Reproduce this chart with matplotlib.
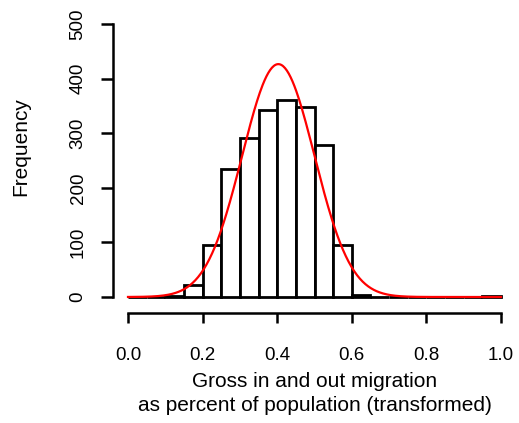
import numpy as np
import matplotlib
matplotlib.use("Agg")
import matplotlib.pyplot as plt

# Histogram data (bin width 0.05 from 0.0 to 1.0)
bin_edges = [i * 0.05 for i in range(21)]
counts = [0, 0, 2, 22, 95, 235, 291, 342, 360, 348, 279, 95, 3, 0, 0, 0, 0, 0, 0, 2]
# Fitted normal curve parameters
fit_mean = 0.403
fit_sd = 0.097

x_ticks = [0.0, 0.2, 0.4, 0.6, 0.8, 1.0]
x_ticklabels = ["0.0", "0.2", "0.4", "0.6", "0.8", "1.0"]
y_ticks = [0, 100, 200, 300, 400, 500]

plt.rcParams['font.family'] = ['Liberation Sans', 'DejaVu Sans']

W, H = 519, 423
fig = plt.figure(figsize=(W / 100, H / 100), dpi=100)
left_px, right_px, bot_px, top_px = 128, 501, 297, 24
ax = fig.add_axes([left_px / W, (H - bot_px) / H, (right_px - left_px) / W, (bot_px - top_px) / H])

lefts = bin_edges[:-1]
width = bin_edges[1] - bin_edges[0]
ax.bar(lefts, counts, width=width, align='edge', color='white', edgecolor='black',
       linewidth=2.0, clip_on=False, zorder=2)

n_total = sum(counts)
xs = np.linspace(0, 1, 400)
ys = n_total * width * np.exp(-0.5 * ((xs - fit_mean) / fit_sd) ** 2) / (fit_sd * np.sqrt(2 * np.pi))
ax.plot(xs, ys, color='#ff0000', linewidth=1.6, clip_on=False, zorder=3)

ax.set_xlim(0, 1)
ax.set_ylim(0, 500)

for s in ['top', 'right']:
    ax.spines[s].set_visible(False)
ax.spines['left'].set_position(('outward', 10.8))
ax.spines['bottom'].set_position(('outward', 11.5))
ax.spines['left'].set_bounds(0, 500)
ax.spines['bottom'].set_bounds(0, 1)
for s in ['left', 'bottom']:
    ax.spines[s].set_linewidth(1.8)

fs_tick = 13.5
fs_lab = 15
ax.set_xticks(x_ticks)
ax.set_xticklabels(x_ticklabels)
ax.set_yticks(y_ticks)
ax.set_yticklabels([str(v) for v in y_ticks], rotation=90, va='center')
ax.tick_params(axis='x', length=7.5, width=1.8, pad=17, labelsize=fs_tick)
ax.tick_params(axis='y', length=9, width=1.8, pad=10, labelsize=fs_tick)

cx = (left_px + right_px) / 2 / W
fig.text(cx, 1 - 387 / H, "Gross in and out migration",
         ha='center', va='baseline', fontsize=fs_lab)
fig.text(cx, 1 - 411 / H, "as percent of population (transformed)",
         ha='center', va='baseline', fontsize=fs_lab)
fig.text(21 / W, 1 - 147 / H, "Frequency", rotation=90, ha='center', va='center', fontsize=fs_lab)

fig.savefig("out.png", dpi=100)
